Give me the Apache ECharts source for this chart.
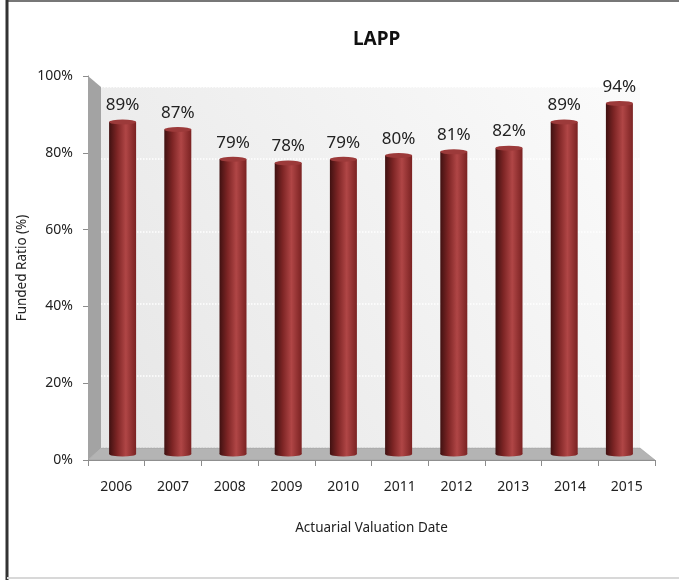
<!DOCTYPE html>
<html>
<head>
<meta charset="utf-8">
<script src="https://cdn.jsdelivr.net/npm/echarts@6/dist/echarts.min.js"></script>
<style>
  html, body { margin: 0; padding: 0; background: #fff; }
  #chart { width: 679px; height: 580px; }
</style>
</head>
<body>
<div id="chart"></div>
<script>
// data
const years = ['2006', '2007', '2008', '2009', '2010', '2011', '2012', '2013', '2014', '2015'];
const fundedRatio = [89, 87, 79, 78, 79, 80, 81, 82, 89, 94];
const yTicks = [0, 20, 40, 60, 80, 100];

const font = "'Noto Sans', 'Open Sans', sans-serif";

const myChart = echarts.init(document.getElementById('chart'));

// cylinder shading, left dark -> highlight -> right dark
const barColor = new echarts.graphic.LinearGradient(0, 0, 1, 0, [
    { offset: 0, color: '#401111' },
    { offset: 0.3, color: '#7e2525' },
    { offset: 0.62, color: '#b04646' },
    { offset: 1, color: '#7a2222' }
]);

const option = {
    animation: false,
    title: {
        text: 'LAPP',
        left: 348,
        top: 25,
        textStyle: { fontFamily: font, fontSize: 19, fontWeight: 'bold', color: '#111' }
    },
    grid: [
        // back wall
        {
            left: 101, right: 39, top: 87, bottom: 132, show: true, borderWidth: 0,
            backgroundColor: new echarts.graphic.LinearGradient(0, 1, 1, 0, [
                { offset: 0, color: '#e6e6e6' },
                { offset: 1, color: '#fbfbfb' }
            ])
        },
        // bars (middle depth)
        { left: 95, right: 32, top: 81, bottom: 126 },
        // front axes
        { left: 88, right: 24, top: 76, bottom: 120 }
    ],
    xAxis: [
        { gridIndex: 0, type: 'category', data: years, show: false },
        { gridIndex: 1, type: 'category', data: years, show: false },
        {
            gridIndex: 2,
            type: 'category',
            data: years,
            axisLine: { lineStyle: { color: '#8c8c8c' } },
            axisTick: { show: true, length: 6, lineStyle: { color: '#8c8c8c' } },
            axisLabel: { margin: 20, fontFamily: font, fontSize: 14, color: '#222' },
            name: 'Actuarial Valuation Date',
            nameLocation: 'middle',
            nameGap: 61,
            nameMoveOverlap: false,
            nameTextStyle: { fontFamily: font, fontSize: 13.5, color: '#222' }
        }
    ],
    yAxis: [
        {
            gridIndex: 0, type: 'value', min: 0, max: 100, interval: 20,
            axisLine: { show: false }, axisTick: { show: false }, axisLabel: { show: false },
            splitLine: { lineStyle: { color: '#ffffff', type: 'dotted', width: 1.5 } }
        },
        { gridIndex: 1, type: 'value', min: 0, max: 100, show: false },
        {
            gridIndex: 2,
            type: 'value',
            min: 0,
            max: 100,
            interval: 20,
            axisLine: { show: true, lineStyle: { color: '#8c8c8c' } },
            axisTick: { show: true, length: 5, lineStyle: { color: '#8c8c8c' } },
            splitLine: { show: false },
            axisLabel: {
                formatter: v => yTicks.indexOf(v) >= 0 ? v + '%' : '',
                margin: 15, fontFamily: font, fontSize: 14, color: '#222'
            },
            name: 'Funded Ratio (%)',
            nameLocation: 'middle',
            nameGap: 59,
            nameMoveOverlap: false,
            nameTextStyle: { fontFamily: font, fontSize: 13.5, color: '#222' }
        }
    ],
    graphic: [
        // left side wall
        {
            type: 'polygon', z: 1,
            shape: { points: [[88, 76], [101, 87], [101, 448], [88, 460]] },
            style: { fill: '#a3a3a3' }
        },
        // floor
        {
            type: 'polygon', z: 1,
            shape: { points: [[88, 460], [101, 448], [640, 448], [655, 460]] },
            style: { fill: '#b4b4b4', stroke: '#999', lineWidth: 0.5 }
        },
        // outer frame
        { type: 'line', shape: { x1: 7, y1: 1, x2: 679, y2: 1 }, style: { stroke: '#777', lineWidth: 2 } },
        { type: 'line', shape: { x1: 7, y1: 0, x2: 7, y2: 580 }, style: { stroke: '#333', lineWidth: 3 } },
        { type: 'line', shape: { x1: 7, y1: 578, x2: 679, y2: 578 }, style: { stroke: '#d8d8d8', lineWidth: 2 } }
    ],
    series: [
        {
            type: 'bar',
            xAxisIndex: 1,
            yAxisIndex: 1,
            data: fundedRatio,
            barWidth: 27,
            z: 3,
            itemStyle: { color: barColor },
            label: {
                show: true,
                position: 'top',
                distance: 8,
                formatter: '{c}%',
                fontFamily: font,
                fontSize: 17,
                color: '#222'
            }
        },
        // top cap of the cylinder
        {
            type: 'pictorialBar',
            xAxisIndex: 1,
            yAxisIndex: 1,
            data: fundedRatio,
            symbol: 'circle',
            symbolSize: [27, 5],
            symbolPosition: 'end',
            symbolOffset: [0, '-50%'],
            z: 4,
            itemStyle: { color: '#9c3a3a' }
        },
        // bottom round of the cylinder
        {
            type: 'pictorialBar',
            xAxisIndex: 1,
            yAxisIndex: 1,
            data: fundedRatio,
            symbol: 'circle',
            symbolSize: [27, 5],
            symbolPosition: 'start',
            symbolOffset: [0, '50%'],
            z: 2,
            itemStyle: { color: barColor }
        }
    ]
};

myChart.setOption(option);
</script>
</body>
</html>
